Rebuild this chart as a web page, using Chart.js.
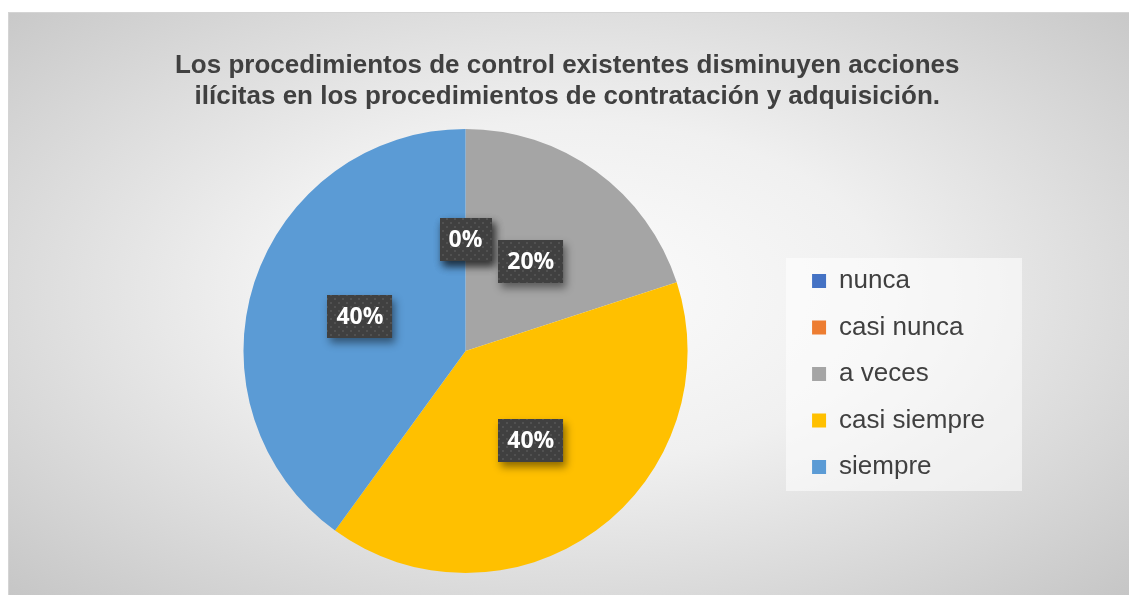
<!DOCTYPE html>
<html>
<head>
<meta charset="utf-8">
<script src="https://cdn.jsdelivr.net/npm/chart.js@4"></script>
<style>
  html, body { margin: 0; padding: 0; background: #ffffff; }
  #frame {
    position: absolute; left: 8px; top: 12px; width: 1121px; height: 583px;
    box-sizing: border-box; border-left: 1px solid #d4d4d4; border-top: 1px solid #d4d4d4;
    background: radial-gradient(ellipse farthest-corner at 50% 48%, #fcfcfc 0%, #f0f0f0 40%, #c6c6c6 100%);
  }
  #chart { position: absolute; left: 0; top: 0; }
</style>
</head>
<body>
<div id="frame"><canvas id="chart" width="1121" height="583"></canvas></div>
<script>
const titleLines = [
  'Los procedimientos de control existentes disminuyen acciones',
  'ilícitas en los procedimientos de contratación y adquisición.'
];
const categories = ['nunca', 'casi nunca', 'a veces', 'casi siempre', 'siempre'];
const percentages = [0, 0, 20, 40, 40];
const sliceColors = ['#4472C4', '#ED7D31', '#A5A5A5', '#FFC000', '#5B9BD5'];

// dark dotted fill used behind the data labels
function makeLabelPattern(ctx) {
  const tile = document.createElement('canvas');
  tile.width = 8;
  tile.height = 8;
  const t = tile.getContext('2d');
  t.fillStyle = '#404040';
  t.fillRect(0, 0, 8, 8);
  t.fillStyle = 'rgba(255,255,255,0.09)';
  t.fillRect(1, 1, 2, 2);
  t.fillRect(5, 5, 2, 2);
  return ctx.createPattern(tile, 'repeat');
}

const legendBackdrop = {
  id: 'legendBackdrop',
  beforeDraw(chart) {
    const ctx = chart.ctx;
    ctx.save();
    ctx.fillStyle = 'rgba(255,255,255,0.55)';
    ctx.fillRect(777, 245, 236, 233);
    ctx.restore();
  }
};

const boxedLabels = {
  id: 'boxedLabels',
  afterDatasetsDraw(chart) {
    const ctx = chart.ctx;
    const meta = chart.getDatasetMeta(0);
    const values = chart.data.datasets[0].data;
    const total = values.reduce((a, b) => a + b, 0);
    const pattern = makeLabelPattern(ctx);
    ctx.save();
    ctx.font = 'bold 23px "Open Sans"';
    meta.data.forEach((arc, i) => {
      const p = arc.getProps(['x', 'y', 'startAngle', 'endAngle', 'outerRadius'], true);
      const mid = (p.startAngle + p.endAngle) / 2;
      const cx = p.x + Math.cos(mid) * p.outerRadius * 0.5;
      const cy = p.y + Math.sin(mid) * p.outerRadius * 0.5;
      const text = Math.round(values[i] / total * 100) + '%';
      const w = ctx.measureText(text).width + 18;
      const h = 43;
      const x0 = Math.round(cx - w / 2);
      const y0 = Math.round(cy - h / 2);

      ctx.shadowColor = 'rgba(0,0,0,0.45)';
      ctx.shadowBlur = 8;
      ctx.shadowOffsetX = 3;
      ctx.shadowOffsetY = 5;
      ctx.fillStyle = '#404040';
      ctx.fillRect(x0, y0, w, h);
      ctx.shadowColor = 'transparent';
      ctx.fillStyle = pattern;
      ctx.fillRect(x0, y0, w, h);

      ctx.fillStyle = '#ffffff';
      ctx.textAlign = 'center';
      ctx.textBaseline = 'middle';
      ctx.fillText(text, cx, cy + 1);
    });
    ctx.restore();
  }
};

new Chart(document.getElementById('chart'), {
  type: 'pie',
  data: {
    labels: categories,
    datasets: [{
      data: percentages,
      backgroundColor: sliceColors,
      borderWidth: 0,
      hoverBorderWidth: 0,
      hoverOffset: 0
    }]
  },
  options: {
    responsive: false,
    animation: false,
    layout: {
      padding: { left: 130.5, right: 135, top: 0, bottom: 23 }
    },
    plugins: {
      tooltip: { enabled: false },
      title: {
        display: true,
        text: titleLines,
        color: '#404040',
        font: { family: '"Liberation Sans", Arial', size: 26, weight: 'bold', lineHeight: 1.19 },
        padding: { top: 37, bottom: 17 }
      },
      legend: {
        display: true,
        position: 'right',
        title: {
          display: true,
          text: ' ',
          font: { size: 10, lineHeight: 1 },
          padding: { top: 152, bottom: 0 }
        },
        labels: {
          color: '#404040',
          font: { family: '"Liberation Sans", Arial', size: 26 },
          boxWidth: 14,
          boxHeight: 14,
          padding: 20.5
        }
      }
    }
  },
  plugins: [legendBackdrop, boxedLabels]
});
</script>
</body>
</html>
